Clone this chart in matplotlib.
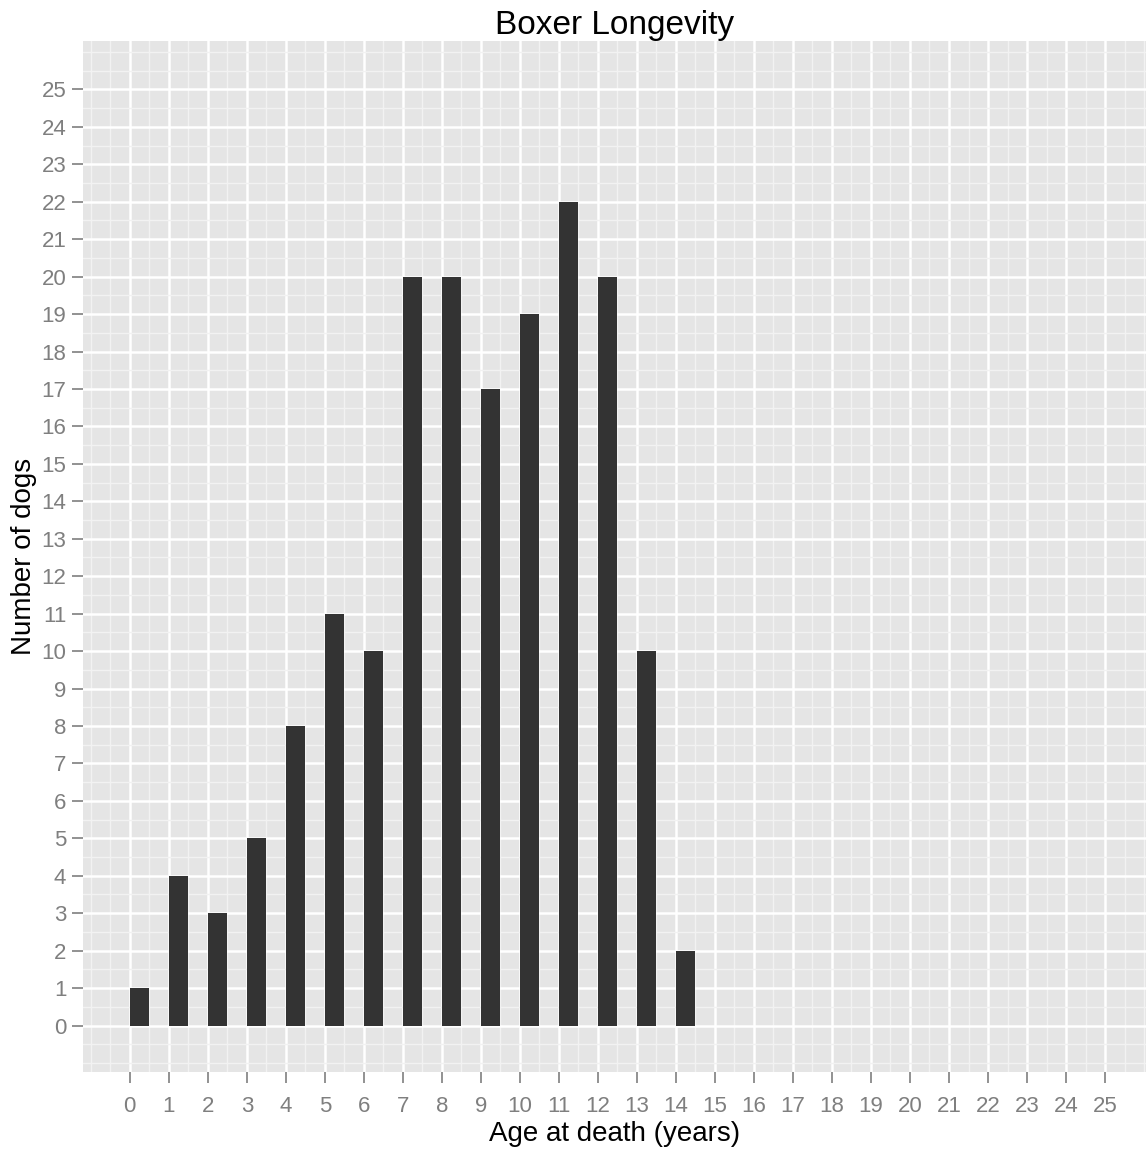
import matplotlib.pyplot as plt
from matplotlib.ticker import MultipleLocator

plt.rcParams['font.family'] = ['Liberation Sans', 'DejaVu Sans']

ages = [0, 1, 2, 3, 4, 5, 6, 7, 8, 9, 10, 11, 12, 13, 14]
dogs = [1, 4, 3, 5, 8, 11, 10, 20, 20, 17, 19, 22, 20, 10, 2]
ticks = list(range(0, 26))

fig = plt.figure(figsize=(11.46, 11.53), dpi=100)
ax = fig.add_axes([83 / 1146, 1 - 1072 / 1153, (1146 - 83) / 1146, (1072 - 40.7) / 1153])
ax.set_facecolor('#e5e5e5')

ax.bar(ages, dogs, width=0.5, align='edge', color='#333333', zorder=3)

ax.set_xlim(-1.2, 26.05)
ax.set_ylim(-1.24, 26.3)
ax.set_xticks(ticks)
ax.set_yticks(ticks)
ax.xaxis.set_minor_locator(MultipleLocator(0.5))
ax.yaxis.set_minor_locator(MultipleLocator(0.5))

ax.grid(which='major', color='white', linewidth=1.8, zorder=1)
ax.grid(which='minor', color='#f2f2f2', linewidth=1.0, zorder=0)
ax.set_axisbelow(True)

for s in ax.spines.values():
    s.set_visible(False)

ax.tick_params(which='major', length=8, width=1.2, color='#7f7f7f',
               labelcolor='#7f7f7f', labelsize=16)
ax.tick_params(axis='x', pad=9)
ax.tick_params(axis='y', pad=4)
ax.tick_params(which='minor', length=0)

ax.set_title('Boxer Longevity', fontsize=24, pad=3)
ax.set_xlabel('Age at death (years)', fontsize=20, labelpad=3)
ax.set_ylabel('Number of dogs', fontsize=20, labelpad=3)

fig.savefig('out.png', dpi=100)
